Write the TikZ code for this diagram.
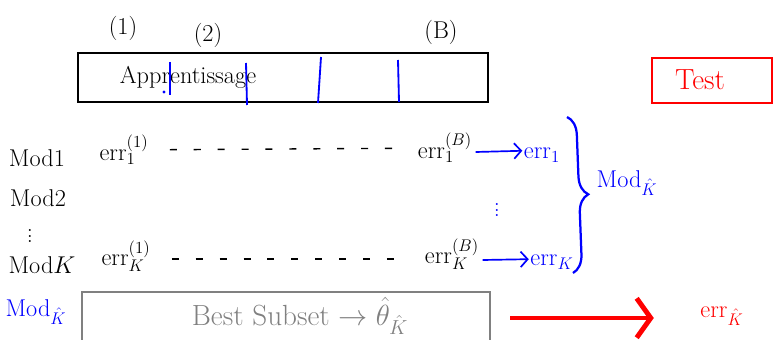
\documentclass[tikz,border=0pt]{standalone}
\usetikzlibrary{arrows.meta,decorations.pathreplacing}

\tikzset{
    hand/.style={font=\LARGE, inner sep=1pt},
    bighand/.style={font=\huge, inner sep=1pt},
    cut/.style={blue, line width=1.3pt},
    blarrow/.style={blue, line width=1.2pt, -{Straight Barb[length=5pt, width=11pt]}},
    gap/.style={dash pattern=on 5pt off 12pt, line width=1pt}
}

\begin{document}
\begin{tikzpicture}[x=0.025cm, y=-0.025cm]
    \useasboundingbox (0,0) rectangle (774,340);

    % learning set cut into B parts
    \draw[line width=2pt] (78,53) rectangle (488,102);
    \node[hand] (app) at (188,77) {Apprentissage};
    \draw[cut] (170,62) -- (170,95);
    \draw[cut] (246,63) -- (247,105);
    \draw[cut] (321,57) -- (318,103);
    \draw[cut] (398,60) -- (399,102);
    \fill[blue] (164,92) circle (1.2pt);

    \node[hand] (p1) at (123,28) {(1)};
    \node[hand] (p2) at (208,35) {(2)};
    \node[hand] (pB) at (441,32) {(B)};

    \draw[red, line width=2pt] (652,58) rectangle (772,103);
    \node[bighand, red] (test) at (700,80) {Test};

    % models
    \node[hand] (mod1) at (37,158) {Mod1};
    \node[hand] (mod2) at (38,198) {Mod2};
    \node[hand] (vd) at (30,232) {$\vdots$};
    \node[hand] (modK) at (42,265) {Mod$K$};

    \node[hand] (e11) at (124,150) {$\mathrm{err}_1^{(1)}$};
    \node[hand] (e1B) at (445,148) {$\mathrm{err}_1^{(B)}$};
    \node[hand] (eK1) at (126,256) {$\mathrm{err}_K^{(1)}$};
    \node[hand] (eKB) at (452,254) {$\mathrm{err}_K^{(B)}$};
    \draw[gap, shorten <=14pt, shorten >=8pt] (e11) -- (e1B);
    \draw[gap, shorten <=14pt, shorten >=18pt] (eK1.south east) ++(0,-14) coordinate (k0) (k0) -- (eKB.west |- k0);

    \node[hand, blue] (r1) at (542,155) {$\mathrm{err}_1$};
    \node[hand, blue] (rK) at (552,262) {$\mathrm{err}_K$};
    \node[hand, blue] (bd) at (497,206) {$\vdots$};
    \draw[blarrow] (e1B.east |- r1.west) ++(2,-3) -- ([yshift=3]r1.west);
    \draw[blarrow] (eKB.east |- rK.west) ++(2,-2) -- ([yshift=2]rK.west);

    \coordinate (bt) at (567,117);
    \coordinate (bb) at (573,273);
    \draw[blue, line width=1.6pt, decorate, decoration={brace, amplitude=13pt}] (bt) -- (bb);
    \node[hand, blue] (best1) at (627,183) {$\mathrm{Mod}_{\hat K}$};

    % final model on the whole set
    \draw[gray, line width=1.6pt] (82,345) -- (82,292) -- (490,292) -- (490,345);
    \node[bighand, gray] (bs) at (300,316) {Best Subset $\rightarrow \hat\theta_{\hat K}$};
    \node[hand, blue] (best2) at (36,312) {$\mathrm{Mod}_{\hat K}$};
    \node[hand, red] (ehat) at (722,316) {$\mathrm{err}_{\hat K}$};
    \coordinate (a0) at (510,318);
    \draw[red, line width=3.5pt, -{Straight Barb[length=10pt, width=28pt]}] (a0) -- ([xshift=-32pt]ehat.west |- a0);
\end{tikzpicture}
\end{document}
